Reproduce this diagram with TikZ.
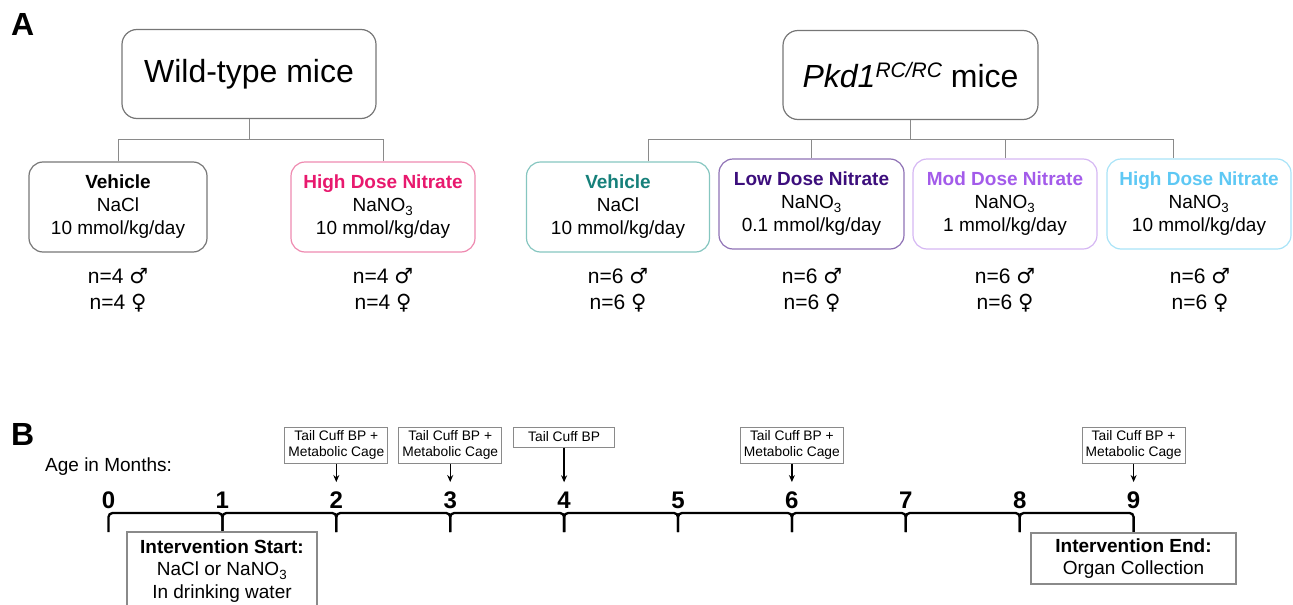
\documentclass[tikz,border=0pt]{standalone}
\usepackage{fontspec}
\setmainfont{Liberation Sans}
\newfontfamily\symfont{DejaVu Sans}
\usetikzlibrary{arrows.meta,calc}
\definecolor{boxgray}{HTML}{767676}
\definecolor{linegray}{HTML}{8A8A8A}
\definecolor{pinkT}{HTML}{E8196E}
\definecolor{pinkB}{HTML}{EE8AB0}
\definecolor{tealT}{HTML}{16807A}
\definecolor{tealB}{HTML}{86C6C0}
\definecolor{lowT}{HTML}{3C0E7C}
\definecolor{lowB}{HTML}{8F72B5}
\definecolor{modT}{HTML}{A35BEA}
\definecolor{modB}{HTML}{D5B7F3}
\definecolor{hiT}{HTML}{5EC8F4}
\definecolor{hiB}{HTML}{A9E3F7}
\newcommand{\myfs}[2]{\fontsize{#1}{#2}\selectfont}
\begin{document}
\begin{tikzpicture}[x=1pt,y=-1pt,
  titlebox/.style={draw=boxgray,line width=1.2pt,rounded corners=15pt,minimum width=254pt,minimum height=89pt,inner sep=0pt,font=\myfs{32}{38}},
  grp/.style={draw=boxgray,line width=1.2pt,rounded corners=14pt,minimum height=90pt,inner sep=0pt,align=center,font=\myfs{19}{23}},
  cnt/.style={align=center,inner sep=0pt,font=\myfs{21}{26}},
  conn/.style={draw=linegray,line width=1pt},
  tl/.style={line width=2.3pt,rounded corners=4pt},
  num/.style={anchor=base,inner xsep=0pt,inner ysep=9pt,font=\bfseries\myfs{24}{28}},
  callbox/.style={draw=linegray,line width=1pt,inner sep=0pt,minimum width=103pt,align=center,font=\myfs{13.8}{15.5}},
  arr/.style={-{Stealth[length=7pt,width=6pt]},line width=1.4pt},
  infobox/.style={draw=linegray,line width=1.2pt,inner sep=0pt,align=center,font=\myfs{19}{22.5}},
  panel/.style={anchor=base west,inner sep=0pt,font=\bfseries\myfs{32}{38}}
]
\useasboundingbox (0,0) rectangle (1293,605);
\clip (0,0) rectangle (1293,605);

% panel labels
\node[panel] (labA) at (11,35) {A};
\node[panel] (labB) at (11,445) {B};

% ---------- Panel A ----------
\node[titlebox] (wt) at (249,74) {Wild-type mice};
\node[titlebox,minimum width=255pt] (pk) at (910.5,75) {{\itshape Pkd1}\raisebox{10pt}{\myfs{21}{21}\itshape RC/RC} mice};

\node[grp,minimum width=178pt] (wtv) at (118,207) {\textbf{Vehicle}\\NaCl\\10 mmol/kg/day};
\node[grp,draw=pinkB,minimum width=184pt] (wth) at (383,207) {\textcolor{pinkT}{\textbf{High Dose Nitrate}}\\NaNO\textsubscript{3}\\10 mmol/kg/day};

\node[grp,draw=tealB,minimum width=183pt] (pv) at (618,207) {\textcolor{tealT}{\textbf{Vehicle}}\\NaCl\\10 mmol/kg/day};
\node[grp,draw=lowB,minimum width=185pt] (pl) at (811.5,204) {\textcolor{lowT}{\textbf{Low Dose Nitrate}}\\NaNO\textsubscript{3}\\0.1 mmol/kg/day};
\node[grp,draw=modB,minimum width=184pt] (pm) at (1005,204) {\textcolor{modT}{\textbf{Mod Dose Nitrate}}\\NaNO\textsubscript{3}\\1 mmol/kg/day};
\node[grp,draw=hiB,minimum width=184pt] (ph) at (1199,204) {\textcolor{hiT}{\textbf{High Dose Nitrate}}\\NaNO\textsubscript{3}\\10 mmol/kg/day};

% connectors A
\coordinate (wtbus) at ($(wtv.north)+(0,-22)$);
\draw[conn] (wtv.north) -- (wtbus) -| (wth.north);
\draw[conn] (wt.south) -- (wt.south |- wtbus);

\coordinate (pbL) at ($(pv.north)+(30,-22)$);
\coordinate (pbR) at ($(ph.north)+(-26,-19)$);
\draw[conn] ($(pv.north)+(30,0)$) -- (pbL) -- (pbR) -- ($(ph.north)+(-26,0)$);
\draw[conn] (pl.north) -- (pl.north |- pbL);
\draw[conn] (pm.north) -- (pm.north |- pbL);
\draw[conn] (pk.south) -- (pk.south |- pbL);

% counts
\node[cnt] (cwv) at (118,290) {n=4 {\symfont ♂}\\n=4 {\symfont ♀}};
\node[cnt] (cwh) at (383,290) {n=4 {\symfont ♂}\\n=4 {\symfont ♀}};
\node[cnt] (cpv) at (618,290) {n=6 {\symfont ♂}\\n=6 {\symfont ♀}};
\node[cnt] (cpl) at (812,290) {n=6 {\symfont ♂}\\n=6 {\symfont ♀}};
\node[cnt] (cpm) at (1005,290) {n=6 {\symfont ♂}\\n=6 {\symfont ♀}};
\node[cnt] (cph) at (1200,290) {n=6 {\symfont ♂}\\n=6 {\symfont ♀}};

% ---------- Panel B ----------
\node[anchor=west,inner sep=0pt,font=\myfs{19}{22}] (age) at (45,467) {Age in Months:};

\foreach \k in {0,...,9} {
  \coordinate (t\k) at ({108.5+113.9*\k},513);
  \coordinate (b\k) at ({108.5+113.9*\k},532);
  \node[num] (n\k) at ({108.5+113.9*\k},508) {\k};
}
\foreach \k [evaluate=\k as \j using int(\k+1)] in {0,...,8} {
  \draw[tl] (b\k) -- (t\k) -- (t\j) -- (b\j);
}

% callouts
\node[callbox,minimum height=36pt] (c2) at ($(t2)+(0,-68)$) {Tail Cuff BP +\\Metabolic Cage};
\node[callbox,minimum height=36pt] (c3) at ($(t3)+(0,-68)$) {Tail Cuff BP +\\Metabolic Cage};
\node[callbox,minimum height=20pt,minimum width=101pt] (c4) at ($(t4)+(0,-76)$) {Tail Cuff BP};
\node[callbox,minimum height=36pt] (c6) at ($(t6)+(0,-68)$) {Tail Cuff BP +\\Metabolic Cage};
\node[callbox,minimum height=36pt] (c9) at ($(t9)+(0,-68)$) {Tail Cuff BP +\\Metabolic Cage};
\foreach \k in {2,3,4,6,9} {
  \draw[arr] (c\k.south) -- (n\k.north);
}

% intervention boxes
\node[infobox,minimum width=190pt,minimum height=78pt] (istart) at (222,571) {\textbf{Intervention Start:}\\NaCl or NaNO\textsubscript{3}\\In drinking water};
\node[infobox,minimum width=205pt,minimum height=51pt] (iend) at (1133.5,558.5) {\textbf{Intervention End:}\\Organ Collection};
\end{tikzpicture}
\end{document}
